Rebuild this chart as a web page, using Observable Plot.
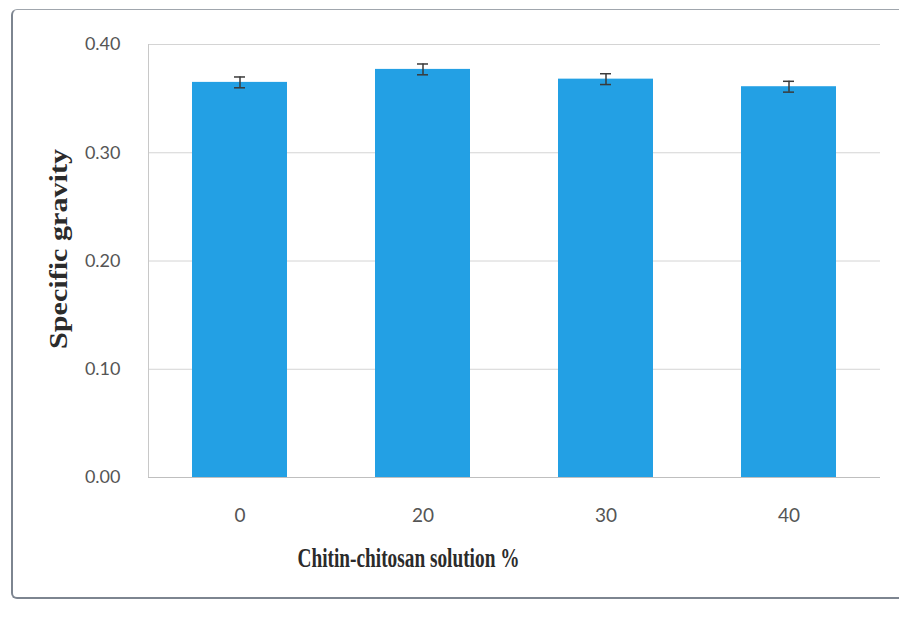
<!DOCTYPE html>
<html>
<head>
<meta charset="utf-8">
<script src="https://cdn.jsdelivr.net/npm/d3@7"></script>
<script src="https://cdn.jsdelivr.net/npm/@observablehq/plot@0.6"></script>
<style>
  html, body { margin: 0; padding: 0; background: #ffffff; }
  #wrap { position: relative; width: 899px; height: 620px; overflow: hidden; }
  #frame { position: absolute; left: 11px; top: 9px; width: 900px; height: 590px;
           border: 2px solid #7d8590; border-top: 1px solid #a0a6ad; border-right: none;
           border-radius: 6px 0 0 6px; box-sizing: border-box; }
  #chart { position: absolute; left: 0; top: 0; }
</style>
</head>
<body>
<div id="wrap">
  <div id="frame"></div>
  <div id="chart"></div>
</div>
<script>
const categories = ["0", "20", "30", "40"];
const values = [0.365, 0.377, 0.368, 0.361];
const errors = [0.005, 0.005, 0.005, 0.005];
const yTicks = [0, 0.1, 0.2, 0.3, 0.4];
const xTitle = "Chitin-chitosan solution %";
const yTitle = "Specific gravity";

const data = categories.map((c, i) => ({cat: c, v: values[i], e: errors[i]}));

const chart = Plot.plot({
  width: 899,
  height: 600,
  marginLeft: 148,
  marginRight: 19,
  marginTop: 44,
  marginBottom: 123,
  style: {background: "transparent", overflow: "visible"},
  x: {domain: categories, paddingInner: 0.48, paddingOuter: 0.24, label: null},
  y: {domain: [0, 0.4], label: null},
  marks: [
    Plot.gridY(yTicks.slice(1), {stroke: "#d4d4d4", strokeOpacity: 1, strokeWidth: 1}),
    Plot.frame({anchor: "left", stroke: "#c8c8c8"}),
    Plot.barY(data, {x: "cat", y: "v", fill: "#23a0e4"}),
    Plot.ruleY([0], {stroke: "#bfbfbf", strokeWidth: 1}),
    Plot.ruleX(data, {x: "cat", y1: d => d.v - d.e, y2: d => d.v + d.e, stroke: "#3a3a3a", strokeWidth: 1.5}),
    Plot.tickY(data, {x: "cat", y: d => d.v + d.e, stroke: "#3a3a3a", strokeWidth: 1.5, insetLeft: 42, insetRight: 42}),
    Plot.tickY(data, {x: "cat", y: d => d.v - d.e, stroke: "#3a3a3a", strokeWidth: 1.5, insetLeft: 42, insetRight: 42}),
    Plot.axisY({ticks: yTicks, tickFormat: d3.format(".2f"), tickSize: 0, tickPadding: 28,
                fontSize: 18, fontFamily: "Lato, 'Open Sans', sans-serif", fill: "#555555", label: null}),
    Plot.axisX({tickSize: 0, tickPadding: 31, fontSize: 19,
                fontFamily: "Lato, 'Open Sans', sans-serif", fill: "#555555", label: null}),
    Plot.text([xTitle], {frameAnchor: "bottom", dx: -217, dy: 89, textAnchor: "start", fontSize: 27, fontWeight: "bold",
                         fontFamily: "'Liberation Serif', serif", fill: "#2b2b2b", className: "xtitle"}),
    Plot.text([yTitle], {frameAnchor: "left", rotate: -90, dx: -90, dy: 88, textAnchor: "start", fontSize: 25, fontWeight: "bold",
                         fontFamily: "'Liberation Serif', serif", fill: "#2b2b2b", className: "ytitle"})
  ]
});

document.getElementById("chart").appendChild(chart);

const xt = chart.querySelector(".xtitle text");
if (xt) { xt.setAttribute("textLength", 222); xt.setAttribute("lengthAdjust", "spacingAndGlyphs"); }
const yt = chart.querySelector(".ytitle text");
if (yt) { yt.setAttribute("textLength", 200); yt.setAttribute("lengthAdjust", "spacingAndGlyphs"); }
</script>
</body>
</html>
